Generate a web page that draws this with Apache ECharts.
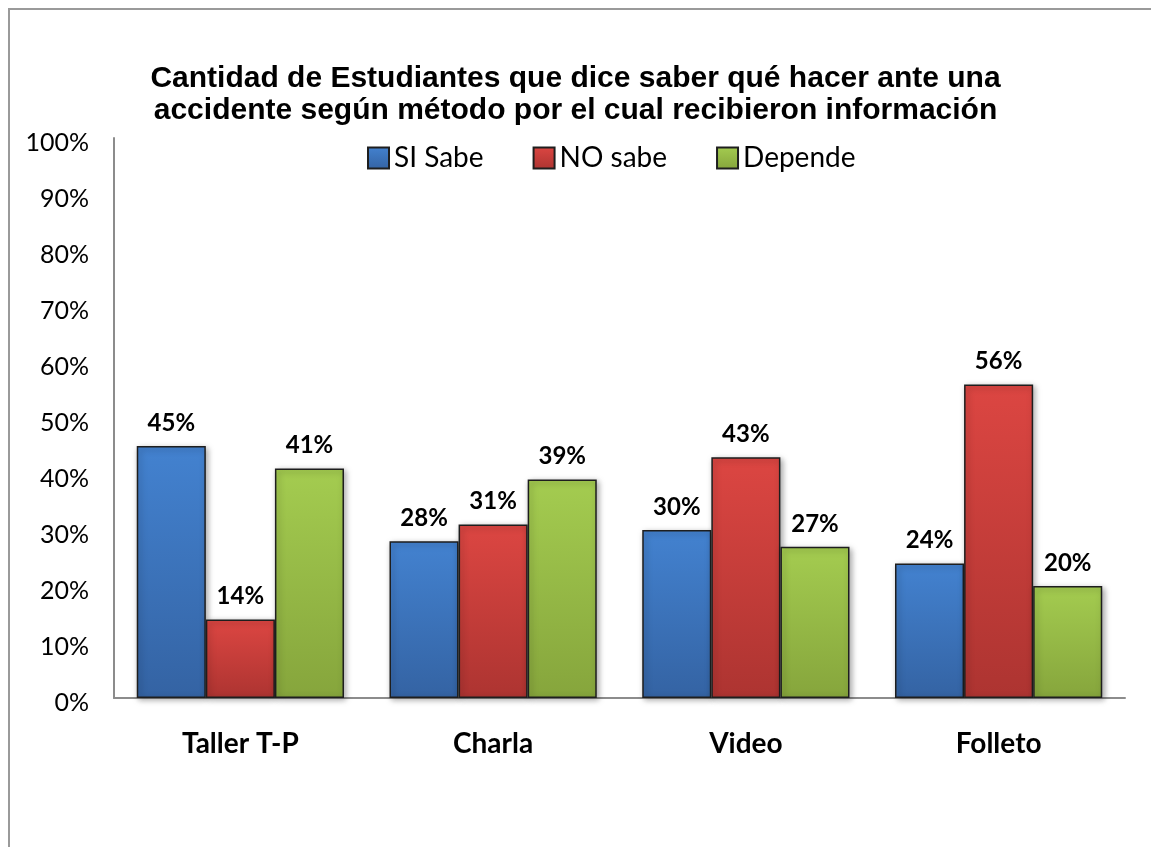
<!DOCTYPE html>
<html>
<head>
<meta charset="utf-8">
<script src="https://cdn.jsdelivr.net/npm/echarts@6/dist/echarts.min.js"></script>
<style>
  html, body { margin: 0; padding: 0; background: #fff; }
  #chart { width: 1151px; height: 847px; }
  .frame {
    position: absolute; left: 8px; top: 8px; width: 1160px; height: 860px;
    border: 2px solid #9a9a9a; box-sizing: border-box; pointer-events: none;
  }
</style>
</head>
<body>
<div id="chart"></div>
<div class="frame"></div>
<script>
// chart data
const categories = ['Taller T-P', 'Charla', 'Video', 'Folleto'];
const siSabe = [45, 28, 30, 24];
const noSabe = [14, 31, 43, 56];
const depende = [41, 39, 27, 20];
const yTicks = [0, 10, 20, 30, 40, 50, 60, 70, 80, 90, 100];

// vertical gradient for the 3d-ish bar look
function barColor(top, bottom) {
  return new echarts.graphic.LinearGradient(0, 0, 0, 1, [
    { offset: 0, color: top },
    { offset: 1, color: bottom }
  ]);
}

function makeSeries(name, data, top, bottom) {
  return {
    name: name,
    type: 'bar',
    data: data,
    barGap: '0%',
    barCategoryGap: '18%',
    itemStyle: {
      color: barColor(top, bottom),
      borderColor: '#1e1e1e',
      borderWidth: 1.5,
      shadowColor: 'rgba(0,0,0,0.35)',
      shadowBlur: 6,
      shadowOffsetX: 2,
      shadowOffsetY: 2
    },
    label: {
      show: true,
      position: 'top',
      distance: 11,
      formatter: '{c}%',
      fontFamily: 'Lato',
      fontWeight: 'bold',
      fontSize: 24,
      color: '#000'
    }
  };
}

const chart = echarts.init(document.getElementById('chart'));
chart.setOption({
  animation: false,
  title: {
    text: 'Cantidad de Estudiantes que dice saber qué hacer ante una\naccidente según método por el cual recibieron información',
    left: 'center',
    top: 58,
    textStyle: {
      fontFamily: 'Liberation Sans',
      fontWeight: 'bold',
      fontSize: 30,
      lineHeight: 32,
      color: '#000'
    }
  },
  legend: {
    top: 139,
    left: 362,
    itemWidth: 21,
    itemHeight: 21,
    itemGap: 49,
    icon: 'rect',
    textStyle: { fontFamily: 'Lato', fontSize: 28, color: '#000' },
    data: ['SI Sabe', 'NO sabe', 'Depende']
  },
  grid: { left: 114, right: 26, top: 138, bottom: 149, containLabel: false },
  xAxis: {
    type: 'category',
    data: categories,
    axisLine: { lineStyle: { color: '#8c8c8c', width: 2 } },
    axisTick: { show: false },
    axisLabel: {
      margin: 32,
      fontFamily: 'Lato',
      fontWeight: 'bold',
      fontSize: 28,
      color: '#000'
    }
  },
  yAxis: {
    type: 'value',
    min: yTicks[0],
    max: yTicks[yTicks.length - 1],
    interval: 10,
    axisLine: { show: true, lineStyle: { color: '#8c8c8c', width: 2 } },
    axisTick: { show: false },
    splitLine: { show: false },
    axisLabel: {
      margin: 25,
      formatter: function (v) { return '{t|' + v + '%}'; },
      rich: {
        t: {
          padding: [10, 0, 0, 0],
          fontFamily: 'Lato',
          fontSize: 25,
          color: '#000'
        }
      }
    }
  },
  series: [
    makeSeries('SI Sabe', siSabe, '#4382d0', '#3463a3'),
    makeSeries('NO sabe', noSabe, '#dc4642', '#ad3431'),
    makeSeries('Depende', depende, '#a4cc50', '#86a53c')
  ]
});
</script>
</body>
</html>
